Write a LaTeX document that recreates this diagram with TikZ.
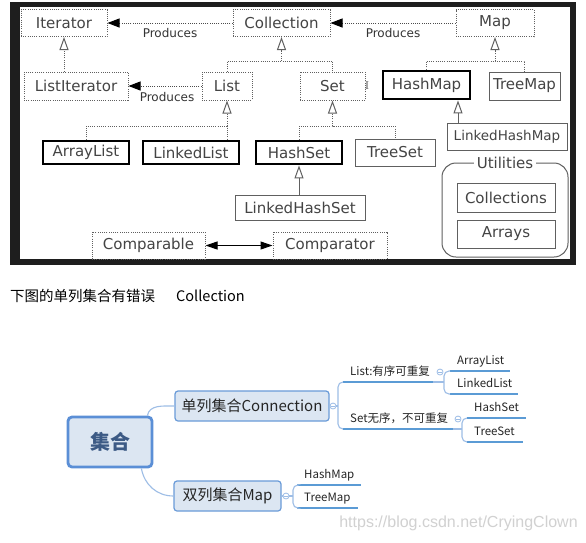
\documentclass[tikz,border=0pt]{standalone}
\usepackage{fontspec}
\setmainfont{DejaVu Sans}
\newfontfamily\cjk{Noto Sans CJK SC}
\newfontfamily\wmfont{Liberation Sans}
\newfontfamily\cursorfont{Liberation Serif}
\usetikzlibrary{arrows.meta}
\definecolor{framegray}{HTML}{1E1E1E}
\definecolor{boxgray}{HTML}{606060}
\definecolor{textgray}{HTML}{444444}
\definecolor{topicfill}{HTML}{DCE6F2}
\definecolor{topicline}{HTML}{6A9BD8}
\definecolor{rootline}{HTML}{5B8FD6}
\definecolor{roottext}{HTML}{3C5A85}
\definecolor{branchblue}{HTML}{9DBDE6}
\definecolor{ulineblue}{HTML}{5B9BD5}

\begin{document}
\begin{tikzpicture}[x=1pt, y=-1pt,
    iface/.style={draw=boxgray, dash pattern=on 1pt off 1.2pt, line width=1pt, minimum height=27pt, inner sep=0pt, text=textgray, font=\fontsize{15}{15}\selectfont},
    mainimpl/.style={iface, solid, draw=black, line width=2.8pt},
    impl/.style={iface, solid, line width=1pt},
    prodlabel/.style={font=\fontsize{12}{12}\selectfont, text=black!80, inner sep=0pt},
    produces/.style={draw=black!70, dash pattern=on 1pt off 1.2pt, line width=1pt, -{Triangle[length=12pt, width=9pt, color=black]}},
    dline/.style={draw=boxgray, dash pattern=on 1pt off 1.2pt, line width=1pt},
    gen/.style={dline, -{Triangle[open, length=13pt, width=9pt]}},
    gensolid/.style={gen, solid},
    both/.style={draw=black, line width=1pt, {Triangle[length=12pt, width=8pt]}-{Triangle[length=12pt, width=8pt]}},
    root/.style={rounded corners=4pt, fill=topicfill, draw=rootline, line width=2.8pt, minimum width=84pt, minimum height=50pt, text=roottext, font=\cjk\bfseries\fontsize{20}{20}\selectfont},
    mtopic/.style={rounded corners=3pt, fill=topicfill, draw=topicline, line width=1.2pt, minimum height=30pt, inner sep=0pt, text=black!85, font=\cjk\fontsize{15}{15}\selectfont},
    leaf/.style={anchor=south west, align=left, inner xsep=7pt, inner ysep=3pt, text height=9pt, text depth=3.5pt, text=black!85, font=\cjk\fontsize{11.5}{12}\selectfont},
    uline/.style={draw=ulineblue, line width=2pt},
    branch/.style={draw=branchblue, line width=1.1pt},
    collapse/.style={circle, draw=branchblue, fill=white, minimum size=6pt, inner sep=0pt, line width=0.8pt,
      path picture={\draw[branchblue, line width=0.6pt] ([xshift=-1.6pt]path picture bounding box.center) -- ([xshift=1.6pt]path picture bounding box.center);}}]
   \fill[white] (0,0) rectangle (586,542);
   \useasboundingbox (0,0) rectangle (586,542);
   \fill[framegray] (10,2) rectangle (576,265);
   \fill[white] (20,7) rectangle (570,259);

   \node[iface, minimum width=86pt] (Iterator) at (64,23) {Iterator};
   \node[iface, minimum width=97pt] (Collection) at (281.5,23) {Collection};
   \node[iface, minimum width=78pt] (Map) at (495,23) {Map};
   \node[iface, minimum width=104pt, minimum height=28pt] (ListIterator) at (76,86) {ListIterator};
   \node[iface, minimum width=50pt, minimum height=28pt] (List) at (227,86) {List};
   \node[iface, minimum width=65pt, minimum height=28pt] (Set) at (332.5,86) {Set};
   \node[mainimpl, minimum width=87pt, minimum height=28pt] (HashMap) at (426.5,85) {HashMap};
   \node[impl, minimum width=71pt, minimum height=28pt] (TreeMap) at (524.5,86) {TreeMap};
   \node[mainimpl, minimum width=86pt, minimum height=23pt] (ArrayList) at (86,152.5) {ArrayList};
   \node[mainimpl, minimum width=96pt, minimum height=23pt] (LinkedList) at (191,152.5) {LinkedList};
   \node[mainimpl, minimum width=86pt, minimum height=23pt] (HashSet) at (299,152.5) {HashSet};
   \node[impl, minimum width=80pt] (TreeSet) at (395,152.5) {TreeSet};
   \node[impl, minimum width=120pt, font=\fontsize{13.5}{14}\selectfont] (LinkedHashMap) at (507,136.5) {LinkedHashMap};
   \node[impl, minimum width=130pt, minimum height=25pt] (LinkedHashSet) at (300,207.5) {LinkedHashSet};
   \node[iface, minimum width=113pt] (Comparable) at (148.5,245.5) {Comparable};
   \node[iface, minimum width=114pt] (Comparator) at (330,245.5) {Comparator};
   \node[impl, rounded corners=14pt, minimum width=126pt, minimum height=94pt,
     label={[anchor=center, fill=white, inner xsep=3pt, inner ysep=1pt, text=textgray, font=\fontsize{15}{15}\selectfont]north:Utilities}] (Utilities) at (505,210) {};
   \node[impl, minimum width=98pt, minimum height=29pt] (Collections) at (506,197.5) {Collections};
   \node[impl, minimum width=98pt, minimum height=28pt] (Arrays) at (506,234) {Arrays};
   \node[text=black!60, font=\cursorfont\fontsize{12}{12}\selectfont, inner sep=0pt] (cursor) at (367,86) {I};

   \draw[produces] (Collection) -- (Iterator) node[prodlabel, midway, yshift=-10pt] {Produces};
   \draw[produces] (Map) -- (Collection) node[prodlabel, midway, yshift=-10pt] {Produces};
   \draw[produces] (List) -- (ListIterator) node[prodlabel, midway, xshift=2pt, yshift=-11pt] {Produces};

   \coordinate (jColl) at (281.5,61);
   \coordinate (jMap) at (495,61);
   \coordinate (jList) at (227,126);
   \coordinate (jSet) at (332.5,126);
   \coordinate (lhmTop) at ([xshift=-49pt]LinkedHashMap.north);
   \draw[gen] (ListIterator.north -| Iterator) -- (Iterator);
   \draw[gen] (jColl) -- (Collection);
   \draw[dline] (List) |- (jColl) -| (Set);
   \draw[gen] (jMap) -- (Map);
   \draw[dline] (HashMap) |- (jMap) -| (TreeMap);
   \draw[gen] (jList) -- (List);
   \draw[dline] (ArrayList) |- (jList) -- (jList |- LinkedList.north);
   \draw[gen] (jSet) -- (Set);
   \draw[dline] (HashSet) |- (jSet) -| (TreeSet);
   \draw[gensolid] (lhmTop) -- (lhmTop |- HashMap.south);
   \draw[gensolid] (LinkedHashSet.north -| HashSet) -- (HashSet);
   \draw[both] (Comparable) -- (Comparator);

   \node[anchor=west, inner sep=0pt, text=black, font=\cjk\fontsize{14.5}{15}\selectfont] (note) at (10,296) {下图的单列集合有错误\hspace{21pt}Collection};

   \node[root] (Root) at (110,442) {集合};
   \node[mtopic, minimum width=154pt] (Single) at (252,406) {单列集合Connection};
   \node[mtopic, minimum width=107pt] (Double) at (227.5,496) {双列集合Map};
   \draw[branch] ([xshift=-6pt]Root.north east) to[out=80, in=180] (Single.west);
   \draw[branch] ([xshift=-12pt]Root.south east) to[out=-80, in=180] (Double.west);

   \node[leaf, text width=76pt] (ListT) at (343,382) {List:有序可重复};
   \node[leaf, text width=96pt] (SetT) at (343,429) {Set无序，不可重复};
   \node[leaf, text width=46pt] (ArrayListT) at (450,371) {ArrayList};
   \node[leaf, text width=54pt] (LinkedListT) at (450,394) {LinkedList};
   \node[leaf, text width=45pt] (HashSetT) at (467,418) {HashSet};
   \node[leaf, text width=42pt] (TreeSetT) at (467,442) {TreeSet};
   \node[leaf, text width=50pt] (HashMapT) at (297,485) {HashMap};
   \node[leaf, text width=47pt] (TreeMapT) at (297,508) {TreeMap};
   \foreach \t in {ListT,SetT,ArrayListT,LinkedListT,HashSetT,TreeSetT,HashMapT,TreeMapT}
     \draw[uline] (\t.south west) -- (\t.south east);

   \coordinate (bSingle) at ([xshift=-5pt]ListT.south west);
   \coordinate (bList) at ([xshift=-6pt]ArrayListT.south west);
   \coordinate (bSet) at ([xshift=-5pt]HashSetT.south west);
   \coordinate (bDouble) at ([xshift=-4pt]HashMapT.south west);
   \draw[branch, rounded corners=5pt] (ListT.south west) -- (bSingle) |- (SetT.south west);
   \draw[branch, rounded corners=5pt] (ArrayListT.south west) -- (bList) |- (LinkedListT.south west);
   \draw[branch, rounded corners=5pt] (HashSetT.south west) -- (bSet) |- (TreeSetT.south west);
   \draw[branch, rounded corners=5pt] (HashMapT.south west) -- (bDouble) |- (TreeMapT.south west);
   \draw[branch] (ListT.south east) -- (ListT.south east -| bList);
   \draw[branch] (SetT.south east) -- (SetT.south east -| bSet);

   \node[collapse] (cSingle) at (333,406) {};
   \node[collapse] (cDouble) at (286,496) {};
   \node[collapse] (cList) at (440,372) {};
   \node[collapse] (cSet) at (458,419) {};
   \draw[branch] (Single) -- (cSingle);
   \draw[branch] (cSingle) -- (cSingle -| bSingle);
   \draw[branch] (Double) -- (cDouble);
   \draw[branch] (cDouble) -- (cDouble -| bDouble);

   \node[inner sep=0pt, text=black!18, font=\wmfont\fontsize{16}{16}\selectfont] (mark) at (458.5,523) {https://blog.csdn.net/CryingClown};
\end{tikzpicture}
\end{document}
